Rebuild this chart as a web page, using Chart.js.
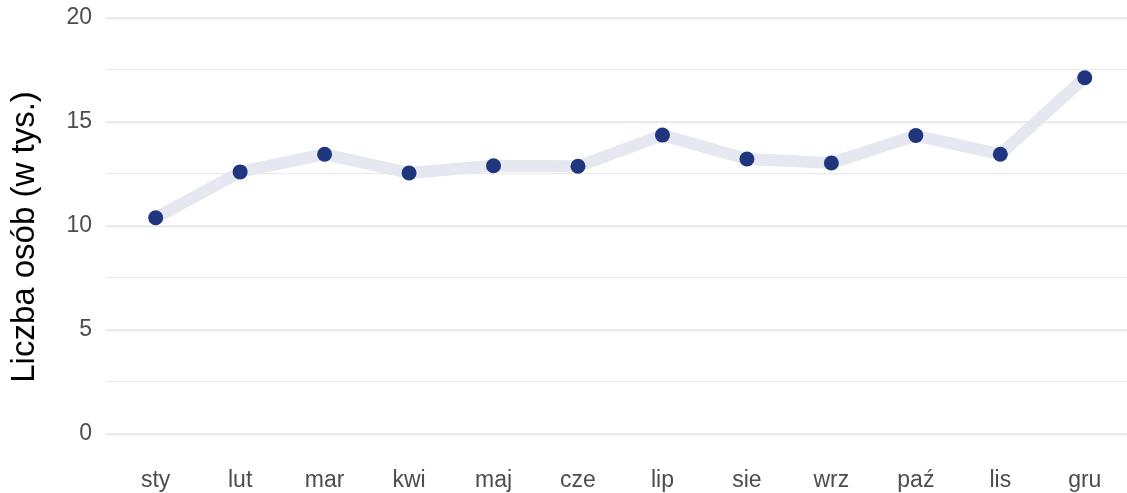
<!DOCTYPE html>
<html>
<head>
<meta charset="utf-8">
<script src="https://cdn.jsdelivr.net/npm/chart.js@4"></script>
<style>
  html, body { margin: 0; padding: 0; background: #fff; overflow: hidden; }
</style>
</head>
<body>
<canvas id="lineChart" width="1127" height="493" style="display:block"></canvas>
<script>
/* ===========================
   DATA
=========================== */

const months = ["sty", "lut", "mar", "kwi", "maj", "cze", "lip", "sie", "wrz", "paź", "lis", "gru"];
const people = [10.4, 12.6, 13.45, 12.55, 12.9, 12.87, 14.37, 13.22, 13.03, 14.35, 13.45, 17.13];
const yTicks = [0, 2.5, 5, 7.5, 10, 12.5, 15, 17.5, 20];
const yTitle = "Liczba osób (w tys.)";

const points = people.map((v, i) => ({ x: i, y: v }));

/* ===========================
   LINE CHART
=========================== */

// y axis title, drawn a bit below the panel centre like the original
const yTitlePlugin = {
  id: "yTitle",
  afterDraw(chart) {
    const c = chart.ctx;
    c.save();
    c.translate(25, 237);
    c.rotate(-Math.PI / 2);
    c.font = "33px 'Liberation Sans', Arial";
    c.fillStyle = "#000";
    c.textAlign = "center";
    c.textBaseline = "middle";
    c.fillText(yTitle, 0, 0);
    c.restore();
  }
};

const ctx = document.getElementById("lineChart").getContext("2d");

new Chart(ctx, {
  type: "line",
  data: {
    datasets: [
      {
        data: points,
        borderColor: "#e5e8f0",
        borderWidth: 12,
        pointRadius: 0,
        borderCapStyle: "round",
        borderJoinStyle: "round",
        order: 2
      },
      {
        data: points,
        showLine: false,
        pointRadius: 7.5,
        pointBackgroundColor: "#1f367f",
        pointBorderWidth: 0,
        order: 1
      }
    ]
  },
  plugins: [yTitlePlugin],
  options: {
    responsive: false,
    animation: false,
    layout: { autoPadding: false, padding: { top: 18, right: 0, bottom: 0, left: 0 } },
    plugins: {
      legend: { display: false },
      tooltip: { enabled: false }
    },
    scales: {
      x: {
        type: "linear",
        min: -0.6,
        max: 11.5,
        afterBuildTicks: (s) => { s.ticks = months.map((m, i) => ({ value: i })); },
        afterFit: (s) => { s.height = 59; s.paddingLeft = 0; s.paddingRight = 0; },
        border: { display: false },
        grid: { display: false, drawTicks: false },
        ticks: {
          padding: 33,
          color: "#4d4d4d",
          font: { family: "Liberation Sans, Arial", size: 23 },
          callback: (v) => months[v]
        }
      },
      y: {
        min: 0,
        max: 20,
        afterBuildTicks: (s) => { s.ticks = yTicks.map(v => ({ value: v })); },
        afterFit: (s) => { s.width = 105; s.paddingTop = 0; s.paddingBottom = 0; },
        border: { display: false },
        grid: {
          drawTicks: false,
          color: "#ebebeb",
          lineWidth: (c) => (c.tick && c.tick.value % 5 === 0 ? 2.2 : 1.2)
        },
        ticks: {
          padding: 13,
          color: "#4d4d4d",
          font: { family: "Liberation Sans, Arial", size: 23 },
          callback: (v) => (v % 5 === 0 ? v : "")
        }
      }
    }
  }
});
</script>
</body>
</html>
